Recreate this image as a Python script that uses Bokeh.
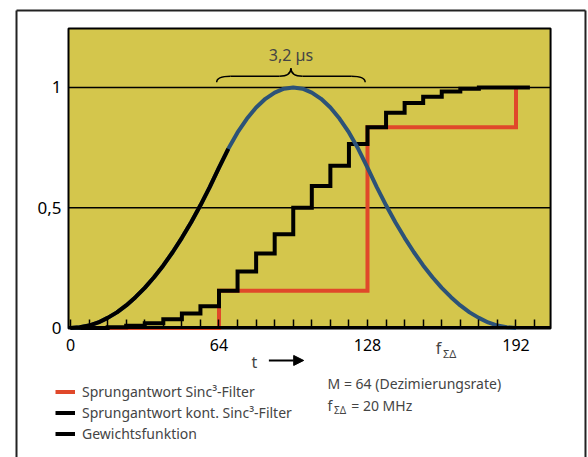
from bokeh.plotting import figure
from bokeh.models import FixedTicker, Label, Arrow, NormalHead, Legend, LegendItem, Range1d
from bokeh.embed import file_html
from bokeh.resources import INLINE

# ---------------- data ----------------
# Gewichtsfunktion (weighting function), sampled every 4 samples
w_t = list(range(0, 193, 4))
w_val = [0, 0.003, 0.010, 0.023, 0.042, 0.065, 0.094, 0.128, 0.167, 0.211, 0.260, 0.315,
         0.375, 0.440, 0.510, 0.586, 0.667, 0.745, 0.813, 0.870, 0.917, 0.953, 0.979, 0.995,
         1.0,
         0.995, 0.979, 0.953, 0.917, 0.870, 0.813, 0.745, 0.667, 0.586, 0.510, 0.440, 0.375,
         0.315, 0.260, 0.211, 0.167, 0.128, 0.094, 0.065, 0.042, 0.023, 0.010, 0.003, 0]

# Sprungantwort kont. Sinc3-Filter (step every 8 samples)
cont_t = [0, 8, 16, 24, 32, 40, 48, 56, 64, 72, 80, 88, 96, 104, 112, 120, 128, 136, 144,
          152, 160, 168, 176, 184, 192, 198]
cont_val = [0, 0, 0.003, 0.009, 0.02, 0.036, 0.06, 0.09, 0.155, 0.235, 0.31, 0.39, 0.5, 0.59,
            0.675, 0.765, 0.835, 0.895, 0.935, 0.962, 0.983, 0.995, 1.0, 1.0, 1.0, 1.0]

# Sprungantwort Sinc3-Filter (decimated, M = 64)
red_t = [0, 64, 128, 192]
red_val = [0, 0.155, 0.835, 1.0]

x_ticks = list(range(0, 201, 8))
x_labels = {0: "0", 64: "64", 128: "128", 192: "192"}
y_ticks = [0, 0.5, 1]
y_labels = {0: "0", 0.5: "0,5", 1: "1"}
grid_vals = [0.5, 1]
brace_span = [63, 127]

# plotting box (data units)
XL, XR, YB, YT = -0.86, 206.9, -0.002, 1.245

FONT = "Noto Sans"
YELLOW = "#d4c64c"
BLUE = "#2c5278"
RED = "#e0482a"

p = figure(width=588, height=457, output_backend="svg", toolbar_location=None,
           x_range=Range1d(-30.17, 223.25), y_range=Range1d(-0.5385, 1.3617),
           min_border=0)
p.background_fill_color = "white"
p.border_fill_color = "white"
p.outline_line_color = None
p.xgrid.visible = False
p.ygrid.visible = False

# yellow plotting area with black frame
p.quad(left=[XL], right=[XR], bottom=[YB], top=[YT], fill_color=YELLOW,
       line_color="black", line_width=2)
p.segment(x0=[XL] * len(grid_vals), x1=[XR] * len(grid_vals), y0=grid_vals, y1=grid_vals,
          line_color="black", line_width=1.5)

# x axis at y = 0
xa = p.xaxis[0]
xa.fixed_location = 0
xa.bounds = (XL, XR)
xa.ticker = FixedTicker(ticks=x_ticks)
xa.major_label_overrides = {t: x_labels.get(t, "") for t in x_ticks}
xa.axis_line_width = 3
xa.major_tick_in = 8
xa.major_tick_out = 0
xa.major_tick_line_width = 1.5
xa.minor_tick_line_color = None
xa.major_label_standoff = 11
xa.major_label_text_font = FONT
xa.major_label_text_font_size = "16px"
xa.major_label_text_color = "black"

# y axis at left edge of the box
ya = p.yaxis[0]
ya.fixed_location = XL
ya.ticker = FixedTicker(ticks=y_ticks)
ya.major_label_overrides = y_labels
ya.axis_line_color = None
ya.major_tick_line_color = None
ya.minor_tick_line_color = None
ya.major_tick_in = 0
ya.major_tick_out = 0
ya.minor_tick_in = 0
ya.minor_tick_out = 0
ya.major_label_standoff = 7
ya.major_label_text_font = FONT
ya.major_label_text_font_size = "17px"
ya.major_label_text_color = "black"

# curves
r_red = p.step(red_t, red_val, mode="after", line_color=RED, line_width=4, line_join="miter")
r_cont = p.step(cont_t, cont_val, mode="after", line_color="black", line_width=4,
                line_join="miter")
r_w = p.line(w_t, w_val, line_color=BLUE, line_width=4)
r_wb = p.line(w_t[:18], w_val[:18], line_color="black", line_width=4)

# brace "3,2 us"
b0, b1 = brace_span
bm = (b0 + b1) / 2
yl, yh, yt = 1.022, 1.047, 1.08
p.quadratic(x0=[b0, bm - 5, bm + 5, b1 - 6], y0=[yl, yh, yh, yh],
            x1=[b0 + 6, bm, bm, b1], y1=[yh, yt, yt, yl],
            cx=[b0, bm, bm, b1], cy=[yh, yh, yh, yh], line_color="black", line_width=1.5)
p.segment(x0=[b0 + 6, bm + 5], y0=[yh, yh], x1=[bm - 5, b1 - 6], y1=[yh, yh],
          line_color="black", line_width=1.5)
p.add_layout(Label(x=bm, y=1.137, text="3,2 µs", text_align="center", text_baseline="middle",
                   text_font=FONT, text_font_size="16px"))

# x-axis extras
p.add_layout(Label(x=158.6, y=-0.085, text="f", text_align="center", text_baseline="middle",
                   text_font=FONT, text_font_size="16px"))
p.add_layout(Label(x=160.5, y=-0.105, text="ΣΔ", text_align="left", text_baseline="middle",
                   text_font=FONT, text_font_size="11px"))
p.add_layout(Label(x=79.3, y=-0.143, text="t", text_align="center", text_baseline="middle",
                   text_font=FONT, text_font_size="16px"))
p.add_layout(Arrow(x_start=85.5, y_start=-0.135, x_end=100.5, y_end=-0.135, line_width=2,
                   end=NormalHead(size=10, fill_color="black", line_color="black")))

# notes
p.add_layout(Label(x=110.8, y=-0.231, text="M = 64 (Dezimierungsrate)", text_align="left",
                   text_baseline="middle", text_font=FONT, text_font_size="14px"))
p.add_layout(Label(x=110.8, y=-0.322, text="f", text_align="left", text_baseline="middle",
                   text_font=FONT, text_font_size="14px"))
p.add_layout(Label(x=113.6, y=-0.342, text="ΣΔ", text_align="left", text_baseline="middle",
                   text_font=FONT, text_font_size="10px"))
p.add_layout(Label(x=121.0, y=-0.322, text="= 20 MHz", text_align="left",
                   text_baseline="middle", text_font=FONT, text_font_size="14px"))

# legend
legend = Legend(items=[LegendItem(label="Sprungantwort Sinc³-Filter", renderers=[r_red]),
                       LegendItem(label="Sprungantwort kont. Sinc³-Filter", renderers=[r_cont]),
                       LegendItem(label="Gewichtsfunktion", renderers=[r_wb])],
                location=(55, 13), glyph_width=20, glyph_height=21, label_height=21,
                label_standoff=7, spacing=0, padding=0, margin=0, border_line_color=None,
                background_fill_alpha=0, label_text_font=FONT, label_text_font_size="14px")
p.add_layout(legend)

# outer page frame
fx0, fx1, fy0, fy1 = -23.27, 221.95, 1.32, -0.54
p.segment(x0=[fx0, fx0, fx1], y0=[fy0, fy0, fy0], x1=[fx0, fx1, fx1], y1=[fy1, fy0, fy1],
          line_color="#222222", line_width=2)

open("out.html", "w").write(file_html(p, INLINE))
